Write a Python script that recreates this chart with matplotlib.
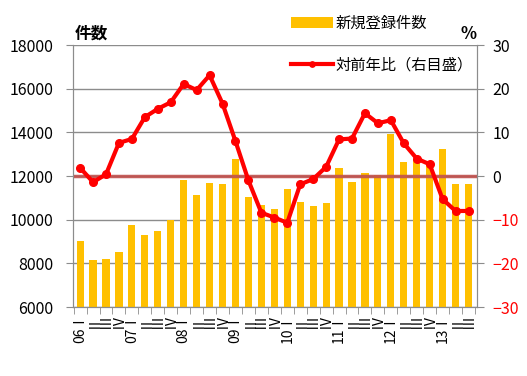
import numpy as np
import matplotlib
matplotlib.use('Agg')
import matplotlib.pyplot as plt

plt.rcParams['font.family'] = ['Noto Sans CJK JP', 'DejaVu Sans']

# quarters 2006 I .. 2013 III
years = ['06', '07', '08', '09', '10', '11', '12', '13']
quarters = ['Ⅰ', 'Ⅱ', 'Ⅲ', 'Ⅳ']

counts = [9020, 8150, 8200, 8520, 9750, 9300, 9480, 10000,
          11820, 11130, 11680, 11630, 12780, 11040, 10670, 10490,
          11400, 10800, 10630, 10760, 12380, 11730, 12140, 12060,
          13950, 12640, 12780, 12500, 13250, 11630, 11630]

yoy = [1.9, -1.4, 0.4, 7.6, 8.5, 13.5, 15.4, 16.9,
       21.1, 19.7, 23.1, 16.6, 8.0, -1.0, -8.4, -9.5,
       -10.7, -1.9, -0.7, 2.1, 8.4, 8.6, 14.4, 12.1,
       12.8, 7.5, 4.0, 2.7, -5.3, -8.0, -8.0]

labels = []
for i in range(len(counts)):
    y = years[i // 4]
    q = quarters[i % 4]
    labels.append(y + q if i % 4 == 0 else q)

x = np.arange(len(counts))

fig = plt.figure(figsize=(5.27, 3.76), dpi=100)
ax1 = fig.add_axes([0.1385, 0.1835, 0.7665, 0.6965])
ax2 = ax1.twinx()

gray = '#8c8c8c'
ax1.bar(x, counts, width=0.55, color='#FFC000', label='新規登録件数', zorder=2)
ax1.set_ylim(6000, 18000)
ax1.set_yticks(np.arange(6000, 18001, 2000))
ax1.set_xlim(-0.55, len(counts) - 0.35)
ax1.grid(axis='y', color=gray, lw=1)
ax1.set_axisbelow(True)

ax1.set_xticks(x)
ax1.set_xticklabels(labels, rotation=90, fontsize=10, va='top', ha='center')
ax1.set_xticks(np.arange(-0.5, len(counts), 1), minor=True)
ax1.tick_params(axis='x', which='major', length=0, pad=5)
ax1.tick_params(axis='x', which='minor', length=5, color=gray)
ax1.tick_params(axis='y', length=5, color=gray, labelsize=11.5, pad=9)

ax2.axhline(0, color='#C0504D', lw=2.5, alpha=0.9, zorder=1)
ax2.plot(x, yoy, color='#FF0000', lw=3, marker='o', markersize=5.5,
         label='対前年比（右目盛）', zorder=3)
ax2.set_ylim(-30, 30)
ax2.set_yticks(np.arange(-30, 31, 10))
ax2.tick_params(axis='y', length=5, color=gray, labelsize=11.5, pad=6)
for t, v in zip(ax2.get_yticklabels(), np.arange(-30, 31, 10)):
    if v < 0:
        t.set_color('#FF0000')

for ax in (ax1, ax2):
    ax.spines['top'].set_visible(False)
    for s in ('left', 'right', 'bottom'):
        ax.spines[s].set_color(gray)

h1, l1 = ax1.get_legend_handles_labels()
h2, l2 = ax2.get_legend_handles_labels()
leg = fig.legend(h1 + h2, l1 + l2, loc='upper left', bbox_to_anchor=(0.527, 0.997),
                 frameon=False, fontsize=11, handlelength=2.7, labelspacing=1.6,
                 handletextpad=0.2, markerscale=0.7)

fig.text(75 / 527, 1 - 34 / 376, '件数', fontsize=12, fontweight='bold', va='center')
fig.text(460 / 527, 1 - 34 / 376, '%', fontsize=12, fontweight='bold', va='center')

fig.savefig('out.png', dpi=100)
